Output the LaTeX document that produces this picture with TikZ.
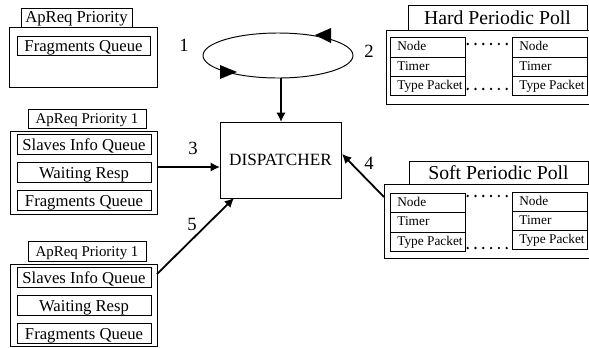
\documentclass[tikz,border=0pt]{standalone}
\usepackage{fontspec}
\setmainfont{Liberation Serif}
\usetikzlibrary{arrows.meta,shapes.geometric}
\tikzset{
  frame/.style={draw=black,line width=0.72pt,fill=white,inner sep=0pt,outer sep=0pt,align=center},
  flow/.style={draw=black,line width=1.35pt,-{Latex[length=7pt,width=7pt]}},
  dots/.style={draw=black,line width=2pt,line cap=round,dash pattern=on 0pt off 5.85pt},
  num/.style={inner sep=0pt,font=\fontsize{14}{14}\selectfont},
  qfont/.style={font=\fontsize{12.5}{12.5}\selectfont,text height=10pt,text depth=1pt},
  pfont/.style={font=\fontsize{11.2}{11.2}\selectfont,text height=9pt,text depth=1pt},
  tfont/.style={font=\fontsize{10}{10}\selectfont,text height=7.5pt,text depth=2pt}
}
% \nb[style]{name}{x1}{y1}{x2}{y2}{text}: box given by its pixel corners
\newcommand{\nb}[7][]{%
  \pgfmathsetmacro{\bxw}{(#5-#3)*0.75}%
  \pgfmathsetmacro{\bxh}{(#6-#4)*0.75}%
  \node[frame,minimum width=\bxw pt,minimum height=\bxh pt,#1] (#2) at ({(#3+#5)/2},{(#4+#6)/2}) {#7};%
}
\newcommand{\rw}[6]{%
  \pgfmathsetmacro{\bxw}{(#4-#2)*0.75}%
  \pgfmathsetmacro{\bxh}{(#5-#3)*0.75}%
  \node[frame,tfont,minimum width=\bxw pt,minimum height=\bxh pt] (#1) at ({(#2+#4)/2},{(#3+#5)/2}) {\makebox[\bxw pt][l]{\hspace{5.5pt}#6}};%
}
\begin{document}
\begin{tikzpicture}[x=0.75pt,y=-0.75pt]
\useasboundingbox[fill=white] (0,0) rectangle (589,347);

% top-left queue
\nb[font=\fontsize{12.5}{12.5}\selectfont,text height=9pt,text depth=1pt]{a0}{21}{8}{132}{27}{ApReq Priority}
\nb{a}{9}{27}{157}{87}{}
\nb[qfont]{a1}{17}{36}{150}{55}{Fragments Queue}

% middle-left queue
\nb[pfont]{b0}{28}{109}{146}{128}{ApReq Priority 1}
\nb{b}{10}{131}{157}{214}{}
\nb[qfont]{b1}{17}{134}{151}{154}{Slaves Info Queue}
\nb[qfont]{b2}{17}{162}{151}{182}{Waiting Resp}
\nb[qfont]{b3}{17}{190}{151}{210}{Fragments Queue}

% bottom-left queue
\nb[pfont]{c0}{28}{241}{146}{261}{ApReq Priority 1}
\nb{c}{10}{264}{157}{346}{}
\nb[qfont]{c1}{17}{267}{151}{287}{Slaves Info Queue}
\nb[qfont]{c2}{17}{295}{151}{315}{Waiting Resp}
\nb[qfont]{c3}{17}{323}{151}{343}{Fragments Queue}

% dispatcher
\nb[font=\fontsize{12.9}{12.9}\selectfont]{disp}{220}{122}{341}{198}{DISPATCHER}

% round robin ellipse
\nb[shape=ellipse,fill=none]{ring}{203}{33}{353}{78}{}
\fill (220,65) -- (237,72) -- (220,79) -- cycle;
\fill (331,28) -- (315,35) -- (331,43) -- cycle;

% hard periodic poll
\nb[font=\fontsize{14.8}{14.8}\selectfont]{h0}{408}{5}{587}{30}{Hard Periodic Poll}
\nb{h}{386}{30}{589}{104}{}
\rw{hl1}{390}{37}{465}{57}{Node}
\rw{hl2}{390}{57}{465}{76}{Timer}
\rw{hl3}{390}{76}{465}{95}{Type Packet}
\rw{hr1}{512}{37}{587}{57}{Node}
\rw{hr2}{512}{57}{587}{76}{Timer}
\rw{hr3}{512}{76}{587}{95}{Type Packet}

% soft periodic poll
\nb[font=\fontsize{14.8}{14.8}\selectfont]{s0}{409}{161}{588}{184}{Soft Periodic Poll}
\nb{s}{384}{184}{589}{258}{}
\rw{sl1}{390}{193}{465}{212}{Node}
\rw{sl2}{390}{212}{465}{232}{Timer}
\rw{sl3}{390}{232}{465}{251}{Type Packet}
\rw{sr1}{512}{192}{587}{211}{Node}
\rw{sr2}{512}{211}{587}{230}{Timer}
\rw{sr3}{512}{230}{587}{249}{Type Packet}

% dotted links
\draw[dots] ([xshift=2pt,yshift=2.25pt]hl1.east) -- ([xshift=-2pt,yshift=2.25pt]hr1.west);
\draw[dots] ([xshift=2pt,yshift=-2.6pt]hl3.east) -- ([xshift=-2pt,yshift=-2.6pt]hr3.west);
\draw[dots] ([xshift=2pt,yshift=4.9pt]sl1.east) -- ([xshift=-2pt,yshift=4.1pt]sr1.west);
\draw[dots] ([xshift=2pt,yshift=-4.9pt]sl3.east) -- ([xshift=-2pt,yshift=-6.4pt]sr3.west);

% flows
\draw[flow] ([xshift=2.25pt]ring.south) -- ([xshift=2.25pt]ring.south |- disp.north);
\draw[flow] ([yshift=4.1pt]b.east) -- ([yshift=-5.25pt]disp.west);
\draw[flow] ([yshift=-7.5pt]c.north east) -- ([xshift=10.5pt]disp.south west);
\draw[flow] ([yshift=-9.75pt]s.north west) -- ([xshift=0.75pt,yshift=4.5pt]disp.east);

% numbers
\node[num] (n1) at (184,45) {1};
\node[num] (n2) at (369,51) {2};
\node[num] (n3) at (193,148) {3};
\node[num] (n4) at (369,163) {4};
\node[num] (n5) at (192,224) {5};
\end{tikzpicture}
\end{document}
